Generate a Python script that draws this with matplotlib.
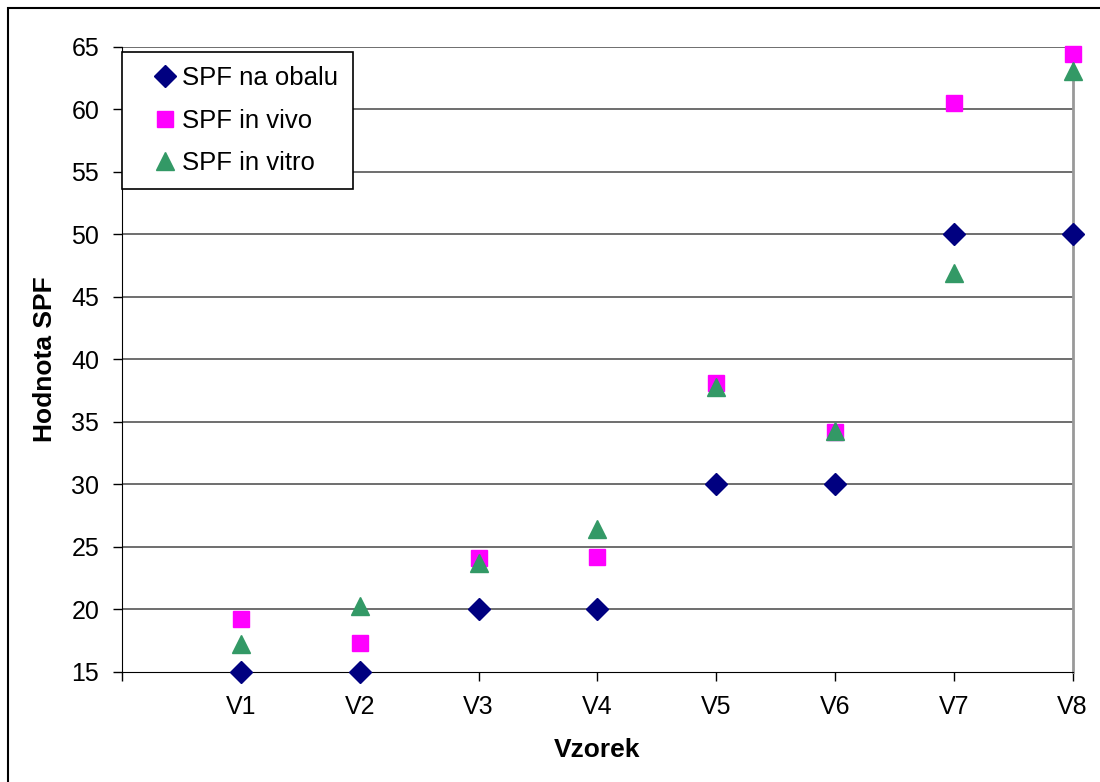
import numpy as np
import matplotlib.pyplot as plt
from matplotlib.patches import Rectangle

plt.rcParams['font.family'] = ['Liberation Sans', 'DejaVu Sans']

samples = ['V1', 'V2', 'V3', 'V4', 'V5', 'V6', 'V7', 'V8']
spf_label = [15, 15, 20, 20, 30, 30, 50, 50]
spf_in_vivo = [19.2, 17.3, 24.1, 24.2, 38.1, 34.2, 60.5, 64.4]
spf_in_vitro = [17.2, 20.3, 23.7, 26.4, 37.8, 34.3, 46.9, 63.1]
y_ticks = [15, 20, 25, 30, 35, 40, 45, 50, 55, 60, 65]

fig = plt.figure(figsize=(11, 7.82), dpi=100)
ax = fig.add_axes([0.111, 0.1407, 0.864, 0.7993])

x = np.arange(1, len(samples) + 1)

for yv in y_ticks[1:]:
    ax.axhline(yv, color='#555555', lw=1.2, zorder=1)

ax.plot(x, spf_label, 'D', color='#000080', ms=11, ls='none', label='SPF na obalu', zorder=3, clip_on=False)
ax.plot(x, spf_in_vivo, 's', color='#ff00ff', ms=12, ls='none', label='SPF in vivo', zorder=3, clip_on=False)
ax.plot(x, spf_in_vitro, '^', color='#339966', ms=13, ls='none', label='SPF in vitro', zorder=4, clip_on=False)

ax.set_xlim(0, 8)
ax.set_ylim(15, 65)
ax.set_yticks(y_ticks)
ax.set_xticks(np.arange(0, 9))
ax.set_xticklabels([''] + samples)
ax.tick_params(axis='both', labelsize=18, length=6.5, width=1, color='black', direction='out')
ax.tick_params(axis='x', pad=10)
ax.tick_params(axis='y', pad=10)

ax.spines['top'].set_visible(False)
ax.spines['right'].set_color('#999999')
ax.spines['right'].set_linewidth(2)
ax.spines['left'].set_color('black')
ax.spines['bottom'].set_color('black')

ax.set_xlabel('Vzorek', fontsize=19, fontweight='bold', labelpad=14)
ax.set_ylabel('Hodnota SPF', fontsize=19, fontweight='bold', labelpad=10)

leg = ax.legend(loc='upper left', bbox_to_anchor=(0.0, 0.992), fontsize=18.5,
                frameon=True, fancybox=False, edgecolor='black', framealpha=1,
                handletextpad=-0.45, borderpad=0.55, labelspacing=0.72, handlelength=2.25,
                borderaxespad=0)
leg.get_frame().set_linewidth(1.2)

fig.patches.append(Rectangle((8 / 1100, -0.1), 1.2, 1 - 8 / 782 + 0.1,
                             transform=fig.transFigure, fill=False,
                             edgecolor='black', lw=1.5, clip_on=False))

fig.savefig('out.png', dpi=100)
